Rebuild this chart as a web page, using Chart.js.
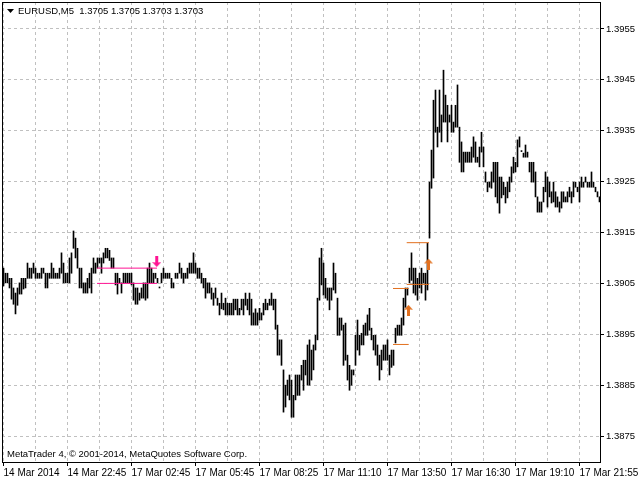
<!DOCTYPE html>
<html><head><meta charset="utf-8">
<script src="https://cdn.jsdelivr.net/npm/chart.js@4/dist/chart.umd.min.js"></script>
<style>html,body{margin:0;padding:0;background:#fff;overflow:hidden}</style>
</head><body>
<canvas id="c" width="640" height="480" style="display:block;width:640px;height:480px"></canvas>
<script>
// ---- data (EURUSD M5 bars: high / low per bar) ----
const highs = [
1.39080,1.39070,1.39070,1.39060,1.39060,1.39041,1.39031,1.39041,1.39051,1.39060,
1.39060,1.39060,1.39090,1.39080,1.39080,1.39090,1.39080,1.39070,1.39070,1.39080,
1.39080,1.39070,1.39070,1.39070,1.39090,1.39080,1.39070,1.39070,1.39080,1.39110,
1.39090,1.39070,1.39070,1.39100,1.39110,1.39153,1.39139,1.39119,1.39080,1.39080,
1.39051,1.39051,1.39060,1.39070,1.39080,1.39100,1.39090,1.39100,1.39100,1.39100,
1.39110,1.39119,1.39119,1.39115,1.39100,1.39100,1.39070,1.39070,1.39060,1.39051,
1.39070,1.39070,1.39070,1.39070,1.39070,1.39051,1.39041,1.39041,1.39031,1.39041,
1.39051,1.39051,1.39080,1.39090,1.39080,1.39070,1.39070,1.39060,1.39043,1.39070,
1.39080,1.39070,1.39070,1.39070,1.39060,1.39051,1.39070,1.39070,1.39090,1.39080,
1.39070,1.39070,1.39080,1.39090,1.39090,1.39110,1.39090,1.39080,1.39080,1.39070,
1.39060,1.39060,1.39051,1.39051,1.39041,1.39031,1.39041,1.39021,1.39011,1.39031,
1.39011,1.39021,1.39011,1.39011,1.39011,1.39019,1.39019,1.39019,1.39001,1.39019,
1.39019,1.39031,1.39019,1.39031,1.39019,1.38992,1.39000,1.38992,1.39001,1.38992,
1.39011,1.39019,1.39011,1.39019,1.39031,1.39019,1.39019,1.38968,1.38939,1.38939,
1.38880,1.38850,1.38860,1.38870,1.38860,1.38830,1.38870,1.38870,1.38870,1.38889,
1.38899,1.38899,1.38929,1.38939,1.38919,1.38929,1.38948,1.39021,1.39100,1.39119,
1.39090,1.39060,1.39041,1.39041,1.39041,1.39090,1.39070,1.39021,1.38982,1.38982,
1.38968,1.38972,1.38909,1.38889,1.38880,1.38880,1.38948,1.38978,1.38948,1.38952,
1.38968,1.38972,1.38988,1.39001,1.38962,1.38948,1.38948,1.38929,1.38909,1.38919,
1.38929,1.38929,1.38939,1.38909,1.38919,1.38919,1.38962,1.38968,1.38968,1.38982,
1.39021,1.39041,1.39041,1.39080,1.39110,1.39080,1.39080,1.39060,1.39070,1.39080,
1.39070,1.39070,1.39129,1.39249,1.39312,1.39410,1.39430,1.39357,1.39430,1.39381,
1.39469,1.39420,1.39400,1.39381,1.39400,1.39367,1.39400,1.39440,1.39357,1.39328,
1.39308,1.39308,1.39308,1.39308,1.39318,1.39338,1.39328,1.39298,1.39318,1.39347,
1.39318,1.39269,1.39249,1.39249,1.39269,1.39288,1.39288,1.39288,1.39259,1.39259,
1.39249,1.39239,1.39249,1.39259,1.39279,1.39298,1.39288,1.39332,1.39338,1.39311,
1.39306,1.39322,1.39308,1.39288,1.39288,1.39288,1.39269,1.39220,1.39210,1.39210,
1.39239,1.39269,1.39259,1.39249,1.39230,1.39249,1.39230,1.39220,1.39210,1.39230,
1.39230,1.39220,1.39230,1.39239,1.39230,1.39249,1.39249,1.39239,1.39249,1.39259,
1.39249,1.39259,1.39249,1.39249,1.39269,1.39249,1.39239,1.39230,1.39220
];
const lows = [
1.39045,1.39051,1.39051,1.39041,1.39019,1.39009,1.38990,1.39007,1.39029,1.39029,
1.39039,1.39041,1.39060,1.39060,1.39060,1.39070,1.39060,1.39060,1.39060,1.39060,
1.39070,1.39041,1.39041,1.39060,1.39060,1.39060,1.39060,1.39060,1.39060,1.39070,
1.39051,1.39051,1.39051,1.39051,1.39070,1.39119,1.39100,1.39080,1.39041,1.39041,
1.39031,1.39031,1.39031,1.39041,1.39031,1.39070,1.39070,1.39080,1.39090,1.39070,
1.39090,1.39100,1.39100,1.39095,1.39080,1.39080,1.39047,1.39029,1.39051,1.39031,
1.39051,1.39051,1.39051,1.39051,1.39047,1.39017,1.39009,1.39009,1.39017,1.39021,
1.39021,1.39017,1.39021,1.39051,1.39051,1.39051,1.39060,1.39051,1.39041,1.39051,
1.39060,1.39060,1.39060,1.39060,1.39041,1.39041,1.39060,1.39060,1.39070,1.39060,
1.39051,1.39060,1.39060,1.39070,1.39070,1.39070,1.39070,1.39060,1.39060,1.39051,
1.39041,1.39021,1.39031,1.39031,1.39019,1.39007,1.39021,1.39007,1.38988,1.39000,
1.38998,1.38988,1.38988,1.38988,1.38988,1.38988,1.38998,1.38988,1.38988,1.38998,
1.38988,1.39007,1.38998,1.38988,1.38968,1.38968,1.38968,1.38968,1.38978,1.38978,
1.38988,1.38998,1.38998,1.39007,1.39007,1.38998,1.38960,1.38909,1.38909,1.38889,
1.38797,1.38807,1.38830,1.38821,1.38787,1.38787,1.38821,1.38830,1.38830,1.38860,
1.38840,1.38870,1.38850,1.38850,1.38860,1.38880,1.38919,1.38939,1.39017,1.39047,
1.39027,1.39021,1.39017,1.38998,1.39017,1.39037,1.39031,1.38948,1.38948,1.38958,
1.38889,1.38899,1.38860,1.38840,1.38850,1.38870,1.38889,1.38919,1.38909,1.38929,
1.38929,1.38948,1.38948,1.38958,1.38939,1.38919,1.38909,1.38889,1.38860,1.38880,
1.38899,1.38899,1.38899,1.38870,1.38885,1.38889,1.38933,1.38948,1.38948,1.38948,
1.38968,1.39003,1.39027,1.39051,1.39056,1.39031,1.39027,1.39017,1.39041,1.39031,
1.39051,1.39017,1.39037,1.39139,1.39237,1.39257,1.39347,1.39318,1.39347,1.39328,
1.39367,1.39367,1.39328,1.39367,1.39347,1.39347,1.39357,1.39357,1.39288,1.39269,
1.39269,1.39288,1.39288,1.39288,1.39288,1.39298,1.39288,1.39288,1.39279,1.39308,
1.39279,1.39249,1.39230,1.39239,1.39237,1.39249,1.39220,1.39208,1.39188,1.39218,
1.39224,1.39208,1.39218,1.39230,1.39249,1.39267,1.39269,1.39279,1.39318,1.39309,
1.39298,1.39298,1.39298,1.39269,1.39249,1.39249,1.39220,1.39190,1.39190,1.39190,
1.39210,1.39230,1.39200,1.39220,1.39208,1.39210,1.39200,1.39200,1.39190,1.39198,
1.39210,1.39210,1.39210,1.39220,1.39208,1.39220,1.39239,1.39230,1.39210,1.39239,
1.39239,1.39249,1.39239,1.39239,1.39239,1.39239,1.39230,1.39220,1.39210
];
const timeLabels = ['14 Mar 2014','14 Mar 22:45','17 Mar 02:45','17 Mar 05:45','17 Mar 08:25',
                    '17 Mar 11:10','17 Mar 13:50','17 Mar 16:30','17 Mar 19:10','17 Mar 21:55'];
const timeLabelBars = [0,32,64,96,128,160,192,224,256,288];
const gridBars = [0,16,32,48,64,80,96,112,128,144,160,176,192,208,224,240,256,272,288];
const priceTicks = [1.3875,1.3885,1.3895,1.3905,1.3915,1.3925,1.3935,1.3945,1.3955];
// horizontal level segments: [fromBar, toBar, price]
const pinkLevels = [[46.75,76.75,1.39080],[46.75,76.75,1.39050]];
const orangeLevels = [[194.75,202.6,1.39040],[194.75,202.6,1.38930],[201.6,212.75,1.39130],[201.6,212.75,1.39048]];
// arrow signals: [bar, price]
const sellArrows = [[76.6,1.39093]];
const buyArrows = [[202.5,1.38997],[212.5,1.39088]];
const titleText = 'EURUSD,M5  1.3705 1.3705 1.3703 1.3703';
const footerText = 'MetaTrader 4, \u00A9 2001-2014, MetaQuotes Software Corp.';

const PINK = '#FF1493', ORANGE = '#E2701E';
function makeArrow(color, up) {
  const c = document.createElement('canvas');
  c.width = 9; c.height = 11;
  const g = c.getContext('2d');
  g.fillStyle = color;
  g.beginPath();
  if (up) {
    g.moveTo(4.5,0); g.lineTo(9,5); g.lineTo(6,4.5); g.lineTo(6,11); g.lineTo(3,11); g.lineTo(3,4.5); g.lineTo(0,5);
  } else {
    g.moveTo(4.5,11); g.lineTo(9,6); g.lineTo(6,6.5); g.lineTo(6,0); g.lineTo(3,0); g.lineTo(3,6.5); g.lineTo(0,6);
  }
  g.closePath(); g.fill();
  return c;
}
const upImg = makeArrow(ORANGE, true);
const downImg = makeArrow(PINK, false);

Chart.defaults.font.family = "'Liberation Sans', Arial, sans-serif";
Chart.defaults.font.size = 10;
Chart.defaults.color = '#000';

const datasets = [];
datasets.push({
  type: 'bar', label: 'bars', order: 2,
  data: highs.map((h, i) => ({x: i, y: [lows[i], h]})),
  backgroundColor: '#000', borderWidth: 0, barThickness: 1, borderSkipped: false
});
function addLevels(arr, color) {
  arr.forEach(l => datasets.push({
    type: 'line', order: 1, data: [{x: l[0], y: l[2]}, {x: l[1], y: l[2]}],
    borderColor: color, borderWidth: 1, pointRadius: 0, fill: false
  }));
}
addLevels(pinkLevels, PINK);
addLevels(orangeLevels, ORANGE);
datasets.push({type: 'scatter', order: 0, data: sellArrows.map(a => ({x: a[0], y: a[1]})), pointStyle: downImg, pointRadius: 5});
datasets.push({type: 'scatter', order: 0, data: buyArrows.map(a => ({x: a[0], y: a[1]})), pointStyle: upImg, pointRadius: 5});

const decor = {
  id: 'decor',
  afterDraw(chart) {
    const ctx = chart.ctx, a = chart.chartArea;
    ctx.save();
    ctx.strokeStyle = '#000'; ctx.lineWidth = 1;
    ctx.strokeRect(Math.round(a.left) + 0.5, Math.round(a.top) + 0.5, Math.round(a.right - a.left), Math.round(a.bottom - a.top));
    ctx.fillStyle = '#000';
    ctx.beginPath(); ctx.moveTo(a.left + 5, a.top + 7); ctx.lineTo(a.left + 12, a.top + 7); ctx.lineTo(a.left + 8.5, a.top + 11); ctx.closePath(); ctx.fill();
    ctx.font = "9.5px 'Liberation Sans', Arial, sans-serif";
    ctx.textBaseline = 'alphabetic';
    ctx.fillText(titleText, a.left + 16, a.top + 12);
    ctx.fillText(footerText, a.left + 5, a.bottom - 5);
    ctx.restore();
  }
};

new Chart(document.getElementById('c'), {
  data: {datasets},
  plugins: [decor],
  options: {
    responsive: false, animation: false, devicePixelRatio: 1,
    layout: {autoPadding: false, padding: {left: 2, top: 2, right: 0, bottom: 0}},
    plugins: {legend: {display: false}, tooltip: {enabled: false}},
    scales: {
      x: {
        type: 'linear', min: -0.75, max: 298.25, offset: false,
        afterBuildTicks: s => { s.ticks = gridBars.map(v => ({value: v})); },
        afterFit: s => { s.height = 18; s.paddingLeft = 0; s.paddingRight = 0; },
        ticks: {
          autoSkip: false, maxRotation: 0, minRotation: 0, align: 'start', padding: 1,
          callback: v => { const k = timeLabelBars.indexOf(v); return k >= 0 ? timeLabels[k] : ''; }
        },
        grid: {offset: false, color: '#c0c0c0', lineWidth: 1, tickLength: 4,
               tickColor: c => (c.tick && timeLabelBars.indexOf(c.tick.value) >= 0) ? '#000' : 'rgba(0,0,0,0)'},
        border: {display: false, dash: [3, 3]}
      },
      y: {
        type: 'linear', position: 'right', min: 1.38699, max: 1.39603,
        afterBuildTicks: s => { s.ticks = priceTicks.map(v => ({value: v})); },
        afterFit: s => { s.width = 40; s.paddingTop = 0; s.paddingBottom = 0; },
        ticks: {padding: 2, font: {size: 9.5}, callback: v => v.toFixed(4)},
        grid: {color: '#c0c0c0', lineWidth: 1, tickLength: 4, tickColor: '#000'},
        border: {display: false, dash: [3, 3]}
      }
    }
  }
});
</script>
</body></html>
